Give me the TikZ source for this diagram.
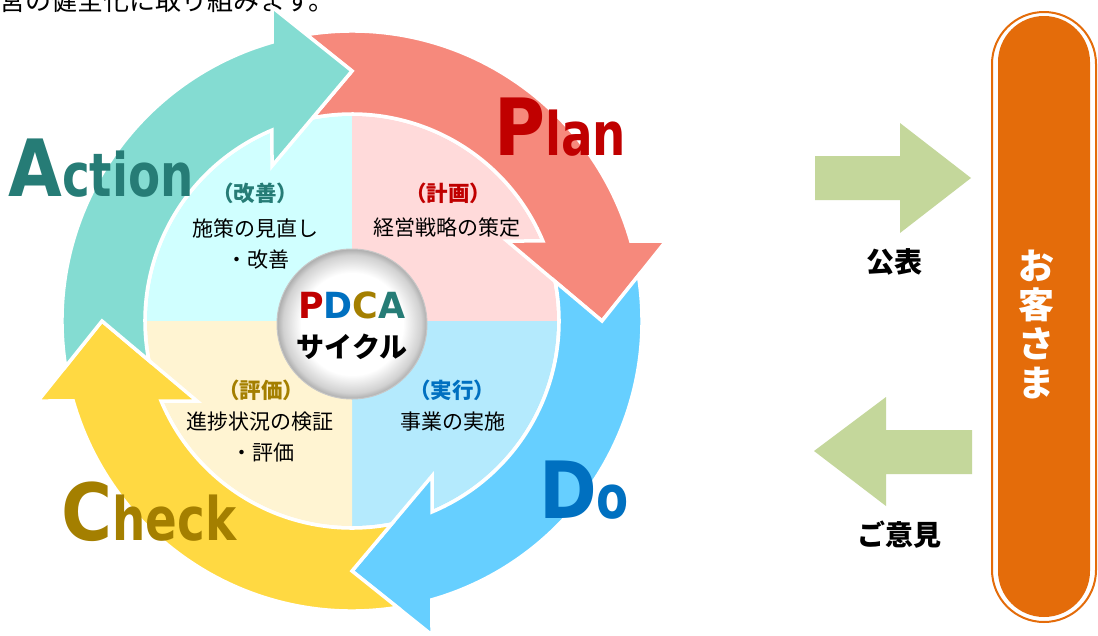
\documentclass[tikz,border=0pt]{standalone}
\usepackage{fontspec}
\newfontfamily\jp{Noto Sans CJK JP}
\newfontfamily\lat{DejaVu Sans}
\definecolor{plan}{HTML}{F6897C}
\definecolor{doc}{HTML}{66CFFF}
\definecolor{chk}{HTML}{FFD942}
\definecolor{act}{HTML}{84DCD2}
\definecolor{qa}{HTML}{D0FFFF}
\definecolor{qp}{HTML}{FFDADA}
\definecolor{qd}{HTML}{B4EAFD}
\definecolor{qc}{HTML}{FFF4D2}
\definecolor{tp}{HTML}{C00000}
\definecolor{td}{HTML}{0070C0}
\definecolor{tc}{HTML}{A47F00}
\definecolor{ta}{HTML}{267C76}
\definecolor{grn}{HTML}{C4D79B}
\definecolor{orng}{HTML}{E46C0A}
\pgfdeclareradialshading{pdcaball}{\pgfpointorigin}{color(0bp)=(white); color(17bp)=(white); color(23bp)=(black!18); color(25bp)=(black!32); color(50bp)=(black!32)}
\newcommand{\bigw}[2]{\scalebox{0.88}[1]{\fontsize{79}{79}\selectfont #1}\scalebox{0.78}[1]{\fontsize{60}{60}\selectfont #2}}
\tikzset{
  ringarrow/.style={draw=white, line width=3.5pt, line join=miter},
  bigword/.style={anchor=base west, inner sep=0pt, font=\lat\bfseries},
  qhead/.style={font=\jp\bfseries\fontsize{21.5}{21.5}\selectfont, inner sep=0pt},
  qbody/.style={font=\jp\fontsize{21}{21}\selectfont, inner sep=0pt, text=black},
  sidelabel/.style={font=\jp\bfseries\fontsize{28}{28}\selectfont, inner sep=0pt, text=black}
}
\begin{document}
\begin{tikzpicture}[x=1pt,y=-1pt]
\useasboundingbox (0,0) rectangle (1098,635);
\fill[white] (0,0) rectangle (1098,635);

% top text, cut off by the picture's upper edge as in the reference
\node[font=\jp\fontsize{26}{26}\selectfont, anchor=base west, inner sep=0pt] (toptext) at (-1,10) {営の健全化に取り組みます。};

\begin{scope}[shift={(352,321)},yscale=-1]
  \fill[qa] (0,0) -- (180:205) arc[start angle=180,end angle=90,radius=205] -- cycle;
  \fill[qp] (0,0) -- (90:205) arc[start angle=90,end angle=0,radius=205] -- cycle;
  \fill[qd] (0,0) -- (0:205) arc[start angle=0,end angle=-90,radius=205] -- cycle;
  \fill[qc] (0,0) -- (-90:205) arc[start angle=-90,end angle=-180,radius=205] -- cycle;
  \foreach \r/\c in {0/plan,90/doc,180/chk,-90/act}{
    \path[ringarrow, fill=\c, rotate=\r]
      (99.03:290) arc[start angle=99.03,end angle=16.01,radius=290]
      -- (314,80) -- (250,0) -- (155,80)
      -- (22.74:207) arc[start angle=22.74,end angle=100.97,radius=207]
      -- (0,250) -- cycle;
  }
\end{scope}

% center ball
\shade[shading=pdcaball] (352,324) circle[radius=75];
\draw[black!22, line width=1pt] (352,324) circle[radius=75];
\node[font=\lat\bfseries\fontsize{36}{36}\selectfont, anchor=base, inner sep=0pt] (pdca) at (352,318)
  {\scalebox{0.97}[1]{\textcolor{tp}{P}\textcolor{td}{D}\textcolor{tc}{C}\textcolor{ta}{A}}};
\node[font=\jp\bfseries\fontsize{28}{28}\selectfont, inner sep=0pt] (cycle) at (352,347) {サイクル};

% big words
\node[bigword, text=tp] (plan) at (494,155) {\bigw{P}{lan}};
\node[bigword, text=td] (do) at (539,518) {\bigw{D}{o}};
\node[bigword, text=tc] (check) at (61,540) {\bigw{C}{heck}};
\node[bigword, text=ta] (action) at (8,196) {\bigw{A}{ction}};

% quadrant texts
\node[qhead, text=ta] (kaizen) at (255,193) {（改善）};
\node[qbody] (kaizen1) at (255,228) {施策の見直し};
\node[qbody] (kaizen2) at (258,260) {・改善};
\node[qhead, text=tp] (keikaku) at (448,193) {（計画）};
\node[qbody] (keikaku1) at (447,228) {経営戦略の策定};
\node[qhead, text=tc] (hyoka) at (261,390) {（評価）};
\node[qbody] (hyoka1) at (260,422) {進捗状況の検証};
\node[qbody] (hyoka2) at (263,453) {・評価};
\node[qhead, text=td] (jikko) at (452,390) {（実行）};
\node[qbody] (jikko1) at (453,422) {事業の実施};

% right side arrows
\fill[grn] (815,156) -- (900,156) -- (900,123) -- (971,178) -- (900,233) -- (900,200) -- (815,200) -- cycle;
\fill[grn] (972,430) -- (886,430) -- (886,397) -- (814,451) -- (886,506) -- (886,474) -- (972,474) -- cycle;
\node[sidelabel] (kohyo) at (894,262) {公表};
\node[sidelabel] (goiken) at (899,535) {ご意見};

% customer capsule
\draw[orng, line width=2pt] (992,64) arc[start angle=180,end angle=360,radius=52] -- (1096,570) arc[start angle=0,end angle=180,radius=52] -- cycle;
\fill[orng] (998,62) arc[start angle=180,end angle=360,radius=46] -- (1090,571) arc[start angle=0,end angle=180,radius=46] -- cycle;
\node[font=\jp\bfseries\fontsize{36}{39}\selectfont, text=white, align=center, inner sep=0pt] (okyaku) at (1036,324) {お\\客\\さ\\ま};
\end{tikzpicture}
\end{document}
